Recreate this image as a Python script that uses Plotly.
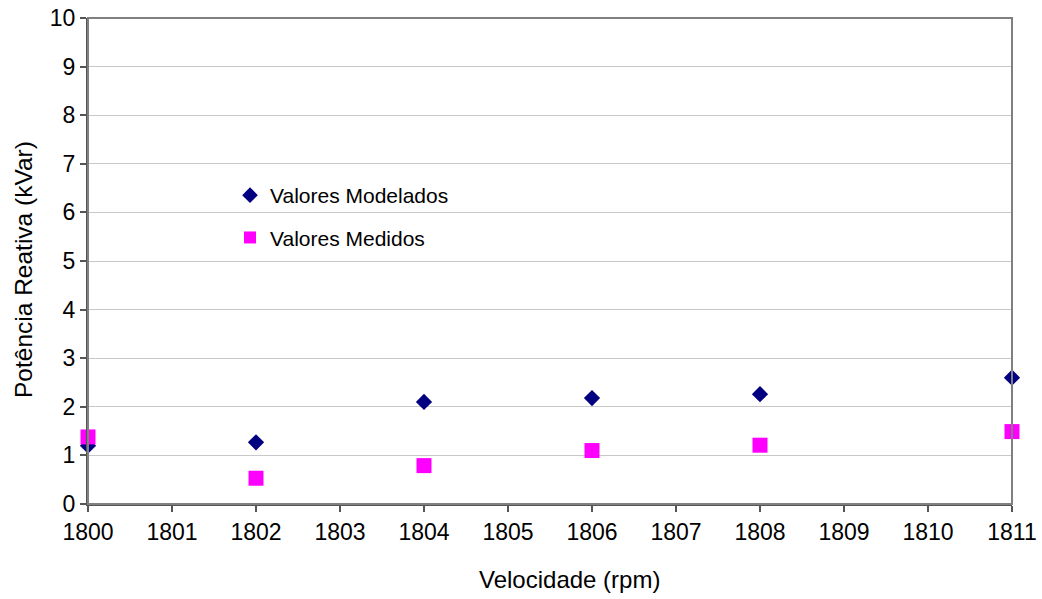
import plotly.graph_objects as go

velocidade = [1800, 1802, 1804, 1806, 1808, 1811]
modelados = [1.20, 1.27, 2.10, 2.18, 2.26, 2.60]
medidos = [1.38, 0.53, 0.79, 1.10, 1.21, 1.49]
x_ticks = list(range(1800, 1812))
y_ticks = list(range(0, 11))
x_title = "Velocidade (rpm)"
y_title = "Potência Reativa (kVar)"

L, T, PW, PH = 88, 18, 924, 486
W, H = 1042, 599

fig = go.Figure()
fig.add_trace(go.Scatter(x=velocidade, y=modelados, mode="markers", name="Valores Modelados",
                         legendgroup="a",
                         marker=dict(symbol="diamond", size=12.5, color="#000080"), cliponaxis=False))
fig.add_trace(go.Scatter(x=velocidade, y=medidos, mode="markers", name="Valores Medidos",
                         legendgroup="b",
                         marker=dict(symbol="square", size=15, color="#FF00FF"), cliponaxis=False))

fig.add_shape(type="rect", xref="paper", yref="paper", x0=(165-L)/PW, x1=(527-L)/PW,
              y0=(504-258)/PH, y1=(504-168)/PH, fillcolor="white", line=dict(width=0), layer="between")
fig.add_shape(type="rect", xref="paper", yref="paper", x0=0, x1=1, y0=0, y1=1,
              line=dict(color="#808080", width=2), layer="above")

fig.add_annotation(text=y_title, xref="paper", yref="paper", x=(23-L)/PW, y=(504-270)/PH,
                   xanchor="center", yanchor="middle", textangle=-90, showarrow=False,
                   font=dict(size=24.5))
fig.add_annotation(text=x_title, xref="paper", yref="paper", x=(569-L)/PW, y=(504-579)/PH,
                   xanchor="center", yanchor="middle", showarrow=False,
                   font=dict(size=24))

fig.update_layout(
    width=W, height=H,
    margin=dict(l=L, r=W - L - PW, t=T, b=H - T - PH, autoexpand=False),
    paper_bgcolor="white", plot_bgcolor="white",
    font=dict(family="Liberation Sans, Arial, sans-serif", color="black", size=21),
    showlegend=True,
    legend=dict(x=(230-L)/PW, y=(504-175)/PH, xanchor="left", yanchor="top",
                bgcolor="rgba(0,0,0,0)", font=dict(size=21), itemsizing="constant",
                tracegroupgap=12),
    xaxis=dict(range=[1800, 1811], tickvals=x_ticks, ticktext=[str(t) for t in x_ticks],
               showgrid=False, zeroline=False, showline=True, linecolor="#555555", linewidth=2,
               ticks="outside", ticklen=6, tickcolor="#555555", tickwidth=1.5, automargin=False,
               tickfont=dict(size=23), ticklabeloverflow="allow"),
    yaxis=dict(range=[0, 10], tickvals=y_ticks, showgrid=True, gridcolor="#C8C8C8", gridwidth=1,
               zeroline=False, showline=True, linecolor="#555555", linewidth=2,
               ticks="outside", ticklen=6, tickcolor="#555555", tickwidth=1.5, automargin=False,
               tickfont=dict(size=23), ticklabeloverflow="allow"),
)
fig.write_html("out.html", config={"displayModeBar": False},
               post_script="document.body.style.margin='0';document.body.style.overflow='hidden';")
